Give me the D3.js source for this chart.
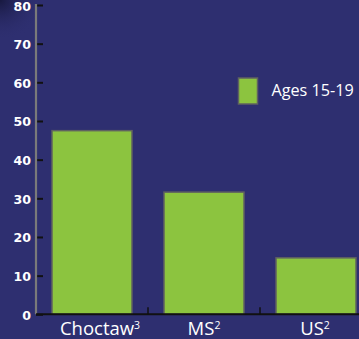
<!DOCTYPE html>
<html>
<head>
<meta charset="utf-8">
<script src="https://cdn.jsdelivr.net/npm/d3@7"></script>
<style>
  html, body { margin: 0; padding: 0; background: #2e2f70; }
  svg { display: block; }
</style>
</head>
<body>
<svg id="chart" width="359" height="339"></svg>
<script>
// Birth rate per 1,000 females, ages 15-19
const categories = ["Choctaw", "MS", "US"];
const notes = ["3", "2", "2"];
const values = [47.5, 31.6, 14.6];
const yTicks = [0, 10, 20, 30, 40, 50, 60, 70, 80];
const seriesName = "Ages 15-19";

const svg = d3.select("#chart");
const W = 359, H = 339;

const defs = svg.append("defs");
const shade = defs.append("radialGradient").attr("id", "corner")
  .attr("cx", 0).attr("cy", 0).attr("r", 0.12);
shade.append("stop").attr("offset", "0%").attr("stop-color", "#15163a").attr("stop-opacity", 0.9);
shade.append("stop").attr("offset", "100%").attr("stop-color", "#2e2f70").attr("stop-opacity", 0);

svg.append("rect").attr("width", W).attr("height", H).attr("fill", "#2e2f70");
svg.append("rect").attr("width", W).attr("height", H).attr("fill", "url(#corner)");

const x = d3.scaleBand().domain(categories).range([36, 372])
  .paddingInner(2 / 7).paddingOuter(1 / 7);
const xTickScale = d3.scaleBand().domain(categories).range([36, 372]);
const y = d3.scaleLinear().domain([0, 80]).range([314.3, 5]);

const green = "#8cc43f";

// bars
svg.append("g").selectAll("rect").data(values).join("rect")
  .attr("x", (d, i) => x(categories[i]))
  .attr("y", d => y(d))
  .attr("width", x.bandwidth())
  .attr("height", d => y(0) - y(d))
  .attr("fill", green)
  .attr("stroke", "#5f6260")
  .attr("stroke-width", 1.5);

// y axis: grey spine, black ticks pointing inward
const yAxis = svg.append("g").attr("transform", "translate(36,0)")
  .call(d3.axisRight(y).tickValues(yTicks).tickSize(7).tickFormat(""));
yAxis.select(".domain").remove();
yAxis.selectAll(".tick line").attr("stroke", "#111").attr("stroke-width", 2);
svg.append("line").attr("x1", 36).attr("x2", 36)
  .attr("y1", y(80) - 1).attr("y2", y(0))
  .attr("stroke", "#7a7a7a").attr("stroke-width", 2.2);

svg.append("g").selectAll("text").data(yTicks).join("text")
  .attr("x", 31).attr("y", d => y(d) + 5.5)
  .attr("text-anchor", "end")
  .attr("fill", "#ffffff")
  .attr("font-family", "'DejaVu Sans', sans-serif")
  .attr("font-weight", "bold").attr("font-size", 12.6)
  .text(d => d);

// x axis baseline and category separators
svg.append("line").attr("x1", 36).attr("x2", W)
  .attr("y1", y(0)).attr("y2", y(0))
  .attr("stroke", "#111").attr("stroke-width", 2);
svg.append("g").selectAll("line").data(categories.slice(1)).join("line")
  .attr("x1", d => xTickScale(d)).attr("x2", d => xTickScale(d))
  .attr("y1", y(0) - 7).attr("y2", y(0))
  .attr("stroke", "#111").attr("stroke-width", 1.5);

// category labels with superscript note numbers
const labelNudge = [8, 0, -1];
const labels = svg.append("g").selectAll("text").data(categories).join("text")
  .attr("x", (d, i) => x(d) + x.bandwidth() / 2 + labelNudge[i])
  .attr("y", 334.5)
  .attr("text-anchor", "middle")
  .attr("fill", "#ffffff")
  .attr("font-family", "'Open Sans', 'DejaVu Sans', sans-serif")
  .attr("font-size", 18.5);
labels.append("tspan").text(d => d);
labels.append("tspan").attr("dy", -6).attr("font-size", 10.5)
  .text((d, i) => notes[i]);

// legend
svg.append("rect").attr("x", 238.5).attr("y", 78).attr("width", 19).attr("height", 26)
  .attr("fill", green).attr("stroke", "#5f6260").attr("stroke-width", 1.5);
svg.append("text").attr("x", 271.5).attr("y", 96)
  .attr("fill", "#ffffff")
  .attr("font-family", "'Open Sans', 'DejaVu Sans', sans-serif")
  .attr("font-size", 16.2)
  .text(seriesName);
</script>
</body>
</html>
